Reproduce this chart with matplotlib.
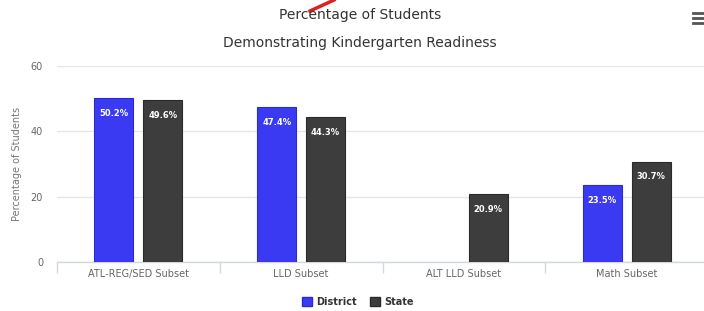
import matplotlib
matplotlib.use("Agg")
import matplotlib.pyplot as plt
from matplotlib.lines import Line2D
from matplotlib.patches import Patch
import numpy as np

categories = ["ATL-REG/SED Subset", "LLD Subset", "ALT LLD Subset", "Math Subset"]
district = [50.2, 47.4, None, 23.5]
state = [49.6, 44.3, 20.9, 30.7]
yticks = [0, 20, 40, 60]

W, H = 704, 311
fig = plt.figure(figsize=(W / 100, H / 100), dpi=100)
fig.patch.set_facecolor("white")

left, right, bottom, top = 57 / W, 708 / W, (H - 262) / H, (H - 66) / H
ax = fig.add_axes([left, bottom, right - left, top - bottom])

x = np.arange(len(categories))
bw = 0.24
off = 0.15
blue = "#3a3af2"
dark = "#3d3d3d"

for i, (d, s) in enumerate(zip(district, state)):
    if d is not None:
        ax.bar(x[i] - off, d, bw, color=blue, edgecolor="#2a2ad0", linewidth=0.8, zorder=3)
        ax.annotate(f"{d}%", (x[i] - off, d), xytext=(0, -11), textcoords="offset points",
                    ha="center", va="center", color="white", fontsize=6, fontweight="bold", zorder=4)
    if s is not None:
        ax.bar(x[i] + off, s, bw, color=dark, edgecolor="#2a2a2a", linewidth=0.8, zorder=3)
        ax.annotate(f"{s}%", (x[i] + off, s), xytext=(0, -11), textcoords="offset points",
                    ha="center", va="center", color="white", fontsize=6, fontweight="bold", zorder=4)

ax.set_xlim(-0.5, 3.5)
ax.set_ylim(0, 60)
ax.set_yticks(yticks)
ax.set_yticklabels([str(v) for v in yticks])
ax.yaxis.grid(True, color="#e6e6e6", linewidth=1, zorder=0)
ax.tick_params(axis="y", length=0, labelsize=7, labelcolor="#666666", pad=10)

ax.set_xticks(x)
ax.set_xticklabels(categories)
ax.tick_params(axis="x", which="major", length=0, labelsize=7, labelcolor="#666666", pad=5)
ax.set_xticks(np.arange(-0.5, 4.0, 1.0), minor=True)
ax.tick_params(axis="x", which="minor", length=8, color="#d0d8e0", width=1)

for sp in ["top", "right", "left"]:
    ax.spines[sp].set_visible(False)
ax.spines["bottom"].set_color("#d0d8e0")
ax.spines["bottom"].set_linewidth(1)

ax.set_ylabel("Percentage of Students", fontsize=7, color="#777777")
ax.yaxis.set_label_coords((22 - 57) / (708 - 57), 0.5)

fig.text(360 / W, 1 - 15 / H, "Percentage of Students", ha="center", va="center",
         fontsize=10, color="#333333")
fig.text(360 / W, 1 - 43 / H, "Demonstrating Kindergarten Readiness", ha="center", va="center",
         fontsize=10, color="#333333")

# legend
handles = [Patch(facecolor=blue, edgecolor="#2a2ad0", label="District"),
           Patch(facecolor=dark, edgecolor="#2a2a2a", label="State")]
leg = fig.legend(handles=handles, loc="center", bbox_to_anchor=(358 / W, 1 - 302 / H), ncol=2,
                 frameon=False, fontsize=7, handlelength=1.0, handleheight=1.0,
                 columnspacing=1.3, handletextpad=0.5)
for t in leg.get_texts():
    t.set_fontweight("bold")
    t.set_color("#333333")

# menu icon
for yy in [13, 18, 23]:
    fig.add_artist(Line2D([693 / W, 704 / W], [1 - yy / H, 1 - yy / H], color="#555555",
                          linewidth=2, transform=fig.transFigure))

# red annotation stroke
fig.add_artist(Line2D([310 / W, 334 / W], [1 - 11 / H, 1 - 0 / H], color="#e02020",
                      linewidth=2.5, transform=fig.transFigure))

fig.savefig("out.png", dpi=100)
